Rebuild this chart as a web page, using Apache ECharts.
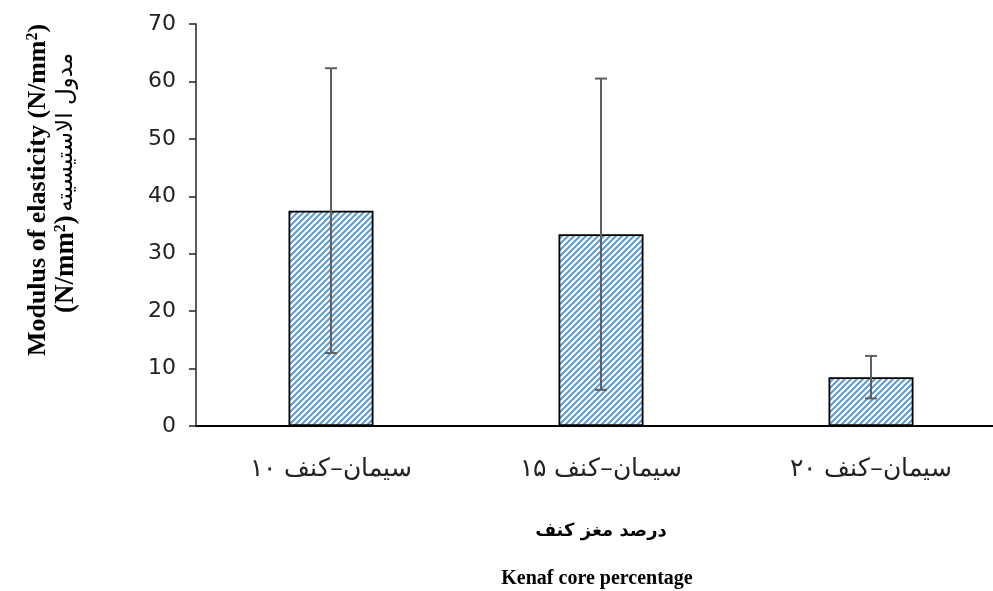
<!DOCTYPE html>
<html>
<head>
<meta charset="utf-8">
<script src="https://cdn.jsdelivr.net/npm/echarts@6/dist/echarts.min.js"></script>
<style>
html,body{margin:0;padding:0;background:#fff;overflow:hidden;}
#chart{width:1006px;height:591px;}
</style>
</head>
<body>
<div id="chart"></div>
<script>
// ---- data ----
var categories = ['سیمان–کنف ۱۰', 'سیمان–کنف ۱۵', 'سیمان–کنف ۲۰'];
var meanValues = [37.5, 33.4, 8.5];
var errorValues = [24.8, 27.1, 3.7];
var yTicks = [0, 10, 20, 30, 40, 50, 60, 70];

// ---- hatch pattern ----
function makePattern() {
  var c = document.createElement('canvas');
  c.width = 6; c.height = 6;
  var ctx = c.getContext('2d');
  ctx.fillStyle = '#ffffff';
  ctx.fillRect(0, 0, 6, 6);
  ctx.strokeStyle = '#5b9bd5';
  ctx.lineWidth = 2.0;
  ctx.beginPath();
  ctx.moveTo(-1, 7); ctx.lineTo(7, -1);
  ctx.moveTo(-4, 4); ctx.lineTo(4, -4);
  ctx.moveTo(2, 10); ctx.lineTo(10, 2);
  ctx.stroke();
  return c;
}

var chart = echarts.init(document.getElementById('chart'), null, {renderer: 'canvas'});
var errData = meanValues.map(function (m, i) { return [i, m - errorValues[i], m + errorValues[i]]; });

chart.setOption({
  animation: false,
  grid: {left: 196, right: 0, top: 24, height: 402, containLabel: false},
  xAxis: {
    type: 'category',
    data: categories,
    axisLine: {lineStyle: {color: '#000', width: 2}},
    axisTick: {show: false},
    axisLabel: {
      fontSize: 25, color: '#222', margin: 31,
      fontFamily: 'DejaVu Serif, Noto Sans, serif'
    }
  },
  yAxis: {
    type: 'value', min: yTicks[0], max: yTicks[yTicks.length - 1], interval: 10,
    axisLine: {show: true, lineStyle: {color: '#222', width: 1.5}},
    axisTick: {show: true, length: 7, lineStyle: {color: '#222', width: 1.5}},
    splitLine: {show: false},
    axisLabel: {fontSize: 22, color: '#222', margin: 20, fontFamily: 'DejaVu Sans, sans-serif'}
  },
  series: [
    {
      type: 'bar',
      data: meanValues,
      barWidth: 85,
      itemStyle: {
        color: {image: makePattern(), repeat: 'repeat'},
        borderColor: '#000', borderWidth: 1.8
      },
      z: 2
    },
    {
      type: 'custom',
      data: errData,
      z: 5,
      renderItem: function (params, api) {
        var x = api.value(0);
        var lo = api.coord([x, api.value(1)]);
        var hi = api.coord([x, api.value(2)]);
        var hw = 6;
        var style = {stroke: '#5f5f5f', lineWidth: 2};
        return {
          type: 'group',
          children: [
            {type: 'line', shape: {x1: hi[0], y1: hi[1], x2: lo[0], y2: lo[1]}, style: style},
            {type: 'line', shape: {x1: hi[0] - hw, y1: hi[1], x2: hi[0] + hw, y2: hi[1]}, style: style},
            {type: 'line', shape: {x1: lo[0] - hw, y1: lo[1], x2: lo[0] + hw, y2: lo[1]}, style: style}
          ]
        };
      }
    }
  ],
  graphic: [
    {
      type: 'text', x: 38, y: 190, rotation: Math.PI / 2,
      style: {
        text: '{b|Modulus of elasticity (N/mm}{s|2}{b|)}',
        align: 'center', verticalAlign: 'middle',
        rich: {
          b: {fontFamily: 'Liberation Serif, serif', fontWeight: 'bold', fontSize: 26, fill: '#000'},
          s: {fontFamily: 'Liberation Serif, serif', fontWeight: 'bold', fontSize: 16, fill: '#000', padding: [0, 0, 10, 0]}
        }
      }
    },
    {
      type: 'text', x: 66, y: 183, rotation: Math.PI / 2,
      style: {
        text: '{b|(N/mm}{s|2}{b|)} {a|مدول الاستیسیته}',
        align: 'center', verticalAlign: 'middle',
        rich: {
          b: {fontFamily: 'Liberation Serif, serif', fontWeight: 'bold', fontSize: 27, fill: '#000'},
          s: {fontFamily: 'Liberation Serif, serif', fontWeight: 'bold', fontSize: 16, fill: '#000', padding: [0, 0, 10, 0]},
          a: {fontFamily: 'DejaVu Sans, sans-serif', fontSize: 23, fill: '#000'}
        }
      }
    },
    {
      type: 'text', x: 601, y: 531,
      style: {
        text: 'درصد مغز کنف', align: 'center', verticalAlign: 'middle',
        fontFamily: 'DejaVu Sans, sans-serif', fontWeight: 'bold', fontSize: 18, fill: '#000'
      }
    },
    {
      type: 'text', x: 597, y: 579,
      style: {
        text: 'Kenaf core percentage', align: 'center', verticalAlign: 'middle',
        fontFamily: 'Liberation Serif, serif', fontWeight: 'bold', fontSize: 20, fill: '#000'
      }
    }
  ]
});
</script>
</body>
</html>
